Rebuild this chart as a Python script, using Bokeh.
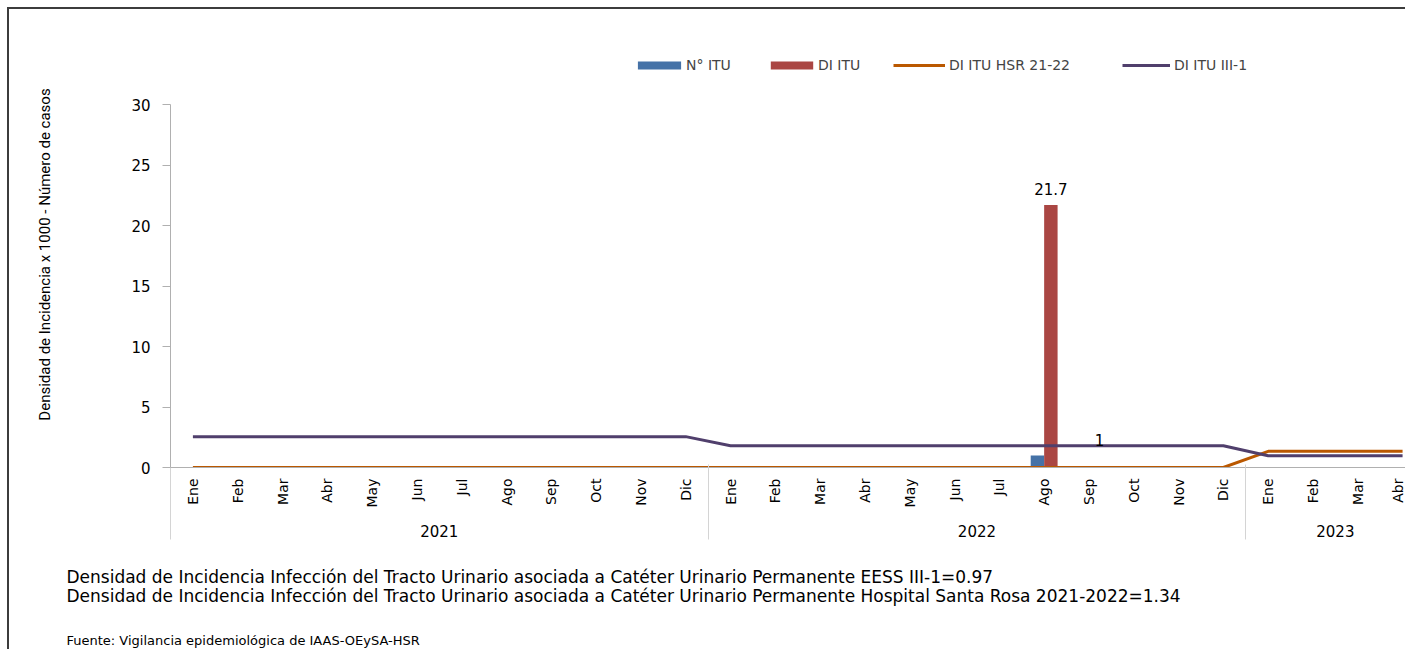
import math
from bokeh.plotting import figure
from bokeh.models import (ColumnDataSource, FixedTicker, LinearAxis, Range1d,
                          Legend, LegendItem, Title)
from bokeh.core.properties import value
from bokeh.transform import dodge
from bokeh.embed import file_html
from bokeh.resources import INLINE

# ---------------- data ----------------
months = ["Ene", "Feb", "Mar", "Abr", "May", "Jun", "Jul", "Ago", "Sep", "Oct", "Nov", "Dic",
          "Ene", "Feb", "Mar", "Abr", "May", "Jun", "Jul", "Ago", "Sep", "Oct", "Nov", "Dic",
          "Ene", "Feb", "Mar", "Abr"]
years = ["2021", "2022", "2023"]
months_per_year = [12, 12, 4]

n_itu = [0, 0, 0, 0, 0, 0, 0, 0, 0, 0, 0, 0,
         0, 0, 0, 0, 0, 0, 0, 1, 0, 0, 0, 0,
         0, 0, 0, 0]
di_itu = [0, 0, 0, 0, 0, 0, 0, 0, 0, 0, 0, 0,
          0, 0, 0, 0, 0, 0, 0, 21.7, 0, 0, 0, 0,
          0, 0, 0, 0]
di_hsr = [0, 0, 0, 0, 0, 0, 0, 0, 0, 0, 0, 0,
          0, 0, 0, 0, 0, 0, 0, 0, 0, 0, 0, 0,
          1.34, 1.34, 1.34, 1.34]
di_iii1 = [2.55, 2.55, 2.55, 2.55, 2.55, 2.55, 2.55, 2.55, 2.55, 2.55, 2.55, 2.55,
           1.8, 1.8, 1.8, 1.8, 1.8, 1.8, 1.8, 1.8, 1.8, 1.8, 1.8, 1.8,
           0.97, 0.97, 0.97, 0.97]

y_ticks = [0, 5, 10, 15, 20, 25, 30]
series_names = ["N° ITU", "DI ITU", "DI ITU HSR 21-22", "DI ITU III-1"]
y_title = "Densidad de Incidencia x 1000 - Número de casos"
note1 = "Densidad de Incidencia Infección del  Tracto Urinario asociada a  Catéter Urinario Permanente  EESS III-1=0.97"
note2 = "Densidad de Incidencia Infección del  Tracto Urinario asociada a  Catéter Urinario Permanente   Hospital Santa Rosa  2021-2022=1.34"
source_note = "Fuente: Vigilancia epidemiológica de IAAS-OEySA-HSR"

C_BLUE = "#4572A7"
C_RED = "#AA4643"
C_ORANGE = "#BA5800"
C_PURPLE = "#503F6C"
FONT = "DejaVu Sans"

x = list(range(len(months)))
src = ColumnDataSource(dict(x=x, n_itu=n_itu, di_itu=di_itu, hsr=di_hsr, iii1=di_iii1))

# layout: y = 30 sits 63 px below the frame top (room for the legend)
Y_TOP = max(y_ticks) * 426 / 363

# ---------------- figure ----------------
p = figure(width=1398, height=642, output_backend="svg", toolbar_location=None,
           x_range=Range1d(-0.5, 27.11), y_range=Range1d(0, Y_TOP),
           x_axis_type=None, y_axis_type=None,
           min_border_left=161, min_border_right=0, min_border_top=32,
           min_border_bottom=184)
p.outline_line_color = None
p.background_fill_color = "white"
p.border_fill_color = "white"
p.styles = {"margin-left": "7px", "margin-top": "7px",
            "border-left": "2px solid #3c3c3c", "border-top": "2px solid #3c3c3c"}

# y axis
yax = LinearAxis(ticker=FixedTicker(ticks=y_ticks), bounds=(min(y_ticks), max(y_ticks)))
yax.axis_line_color = "#B0B0B0"
yax.major_tick_line_color = "#B0B0B0"
yax.major_tick_out = 8
yax.major_tick_in = 0
yax.minor_tick_out = 0
yax.minor_tick_in = 0
yax.major_label_standoff = 12
yax.major_label_text_font = FONT
yax.major_label_text_font_size = "15px"
yax.major_label_text_color = "black"
yax.axis_label = y_title
yax.axis_label_standoff = 74
yax.axis_label_text_font = "Roboto"
yax.axis_label_text_font_size = "15px"
yax.axis_label_text_font_style = "normal"
yax.axis_label_text_color = "black"
p.add_layout(yax, "left")

# month axis
xa = LinearAxis(ticker=FixedTicker(ticks=x),
                major_label_overrides={i: m for i, m in enumerate(months)})
xa.major_label_orientation = math.pi / 2
xa.major_tick_out = 0
xa.major_tick_in = 0
xa.minor_tick_out = 0
xa.minor_tick_in = 0
xa.axis_line_color = "#B0B0B0"
xa.major_label_standoff = 11
xa.major_label_text_font = FONT
xa.major_label_text_font_size = "14px"
xa.major_label_text_color = "black"
p.add_layout(xa, "below")

# year axis
starts = [sum(months_per_year[:i]) for i in range(len(years))]
centers = [s + (n - 1) / 2 for s, n in zip(starts, months_per_year)]
xb = LinearAxis(ticker=FixedTicker(ticks=centers),
                major_label_overrides={c: y for c, y in zip(centers, years)})
xb.major_tick_out = 0
xb.major_tick_in = 0
xb.minor_tick_out = 0
xb.minor_tick_in = 0
xb.axis_line_color = None
xb.major_label_standoff = 14
xb.major_label_text_font = FONT
xb.major_label_text_font_size = "15px"
xb.major_label_text_color = "black"
p.add_layout(xb, "below")

# group separators
bounds = [s - 0.5 for s in starts]
xc = LinearAxis(ticker=FixedTicker(ticks=bounds),
                major_label_overrides={b: "" for b in bounds})
xc.major_tick_out = 0
xc.major_tick_in = 75
xc.minor_tick_out = 0
xc.minor_tick_in = 0
xc.axis_line_color = None
xc.major_tick_line_color = "#D4D4D4"
xc.major_label_standoff = 0
xc.major_label_text_font_size = "1px"
p.add_layout(xc, "below")

# ---------------- glyphs ----------------
bw = 0.3
b1 = p.vbar(x=dodge("x", -bw / 2, range=p.x_range), top="n_itu", width=bw, source=src,
            fill_color=C_BLUE, line_color=None)
b2 = p.vbar(x=dodge("x", bw / 2, range=p.x_range), top="di_itu", width=bw, source=src,
            fill_color=C_RED, line_color=None)
l1 = p.line(x="x", y="hsr", source=src, line_color=C_ORANGE, line_width=3)
l2 = p.line(x="x", y="iii1", source=src, line_color=C_PURPLE, line_width=3)

# data labels
k = di_itu.index(max(di_itu))
p.text(x=[k + bw / 2], y=[di_itu[k]], text=["%g" % di_itu[k]], text_align="center",
       text_baseline="bottom", y_offset=-10, text_font=value(FONT), text_font_size="15px",
       text_color="black")
j = n_itu.index(max(n_itu))
p.text(x=[j - bw / 2], y=[n_itu[j]], text=["%g" % n_itu[j]], text_align="center",
       text_baseline="middle", x_offset=62, y_offset=-15, text_font=value(FONT),
       text_font_size="15px", text_color="black")

# ---------------- legends (one per series, placed like the original) ----------------
leg_specs = [(b1, 462, 54, 0), (b2, 595, 53, 0), (l1, 723, 52, 4), (l2, 952, 48, 4)]
for (r, lx, gw, so), name in zip(leg_specs, series_names):
    lg = Legend(items=[LegendItem(label=name, renderers=[r])], location=(lx, 393),
                orientation="horizontal", padding=0, margin=0, spacing=0,
                glyph_width=gw, glyph_height=10, label_standoff=so, label_height=18,
                label_text_font=FONT, label_text_font_size="14px",
                border_line_color=None, background_fill_alpha=0)
    p.add_layout(lg, "center")

# ---------------- notes ----------------
p.add_layout(Title(text=note1 + "\n" + note2, align="left", offset=-104, standoff=50,
                   text_font=FONT, text_font_size="17px", text_font_style="normal",
                   text_color="black", text_line_height=0.95), "below")
p.add_layout(Title(text=source_note, align="left", offset=-104, standoff=0,
                   text_font=FONT, text_font_size="13px", text_font_style="normal",
                   text_color="black"), "below")

open("out.html", "w").write(file_html(p, INLINE))
